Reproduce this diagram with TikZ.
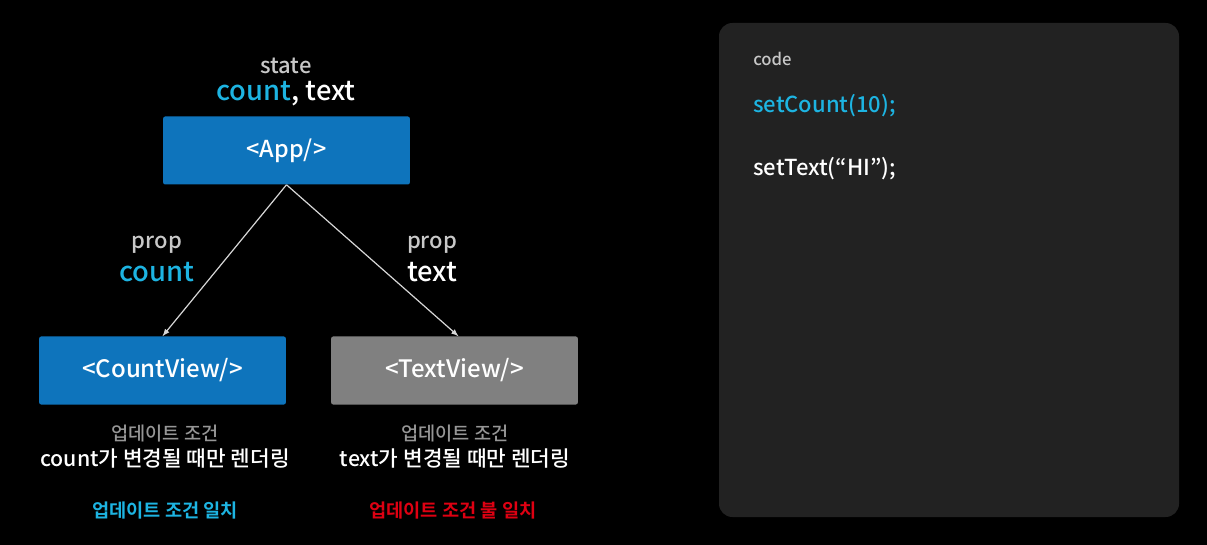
\documentclass[tikz,border=0pt]{standalone}
\usepackage{fontspec}
\setmainfont{Noto Sans CJK KR Medium}[BoldFont={Noto Sans CJK KR Bold}]
\usepackage{tikz}
\usepackage{xcolor}
\usetikzlibrary{positioning}
\definecolor{AppBlue}{RGB}{14,116,188}
\definecolor{ViewGray}{RGB}{128,128,128}
\definecolor{PropCyan}{RGB}{29,180,226}
\definecolor{LabelGray}{RGB}{200,200,200}
\definecolor{NoteGray}{RGB}{150,150,150}
\definecolor{AlertRed}{RGB}{222,0,18}
\definecolor{PanelGray}{RGB}{34,34,34}
\definecolor{EdgeGray}{RGB}{215,215,215}
\newcommand{\fs}[1]{\fontsize{#1}{1.2\dimexpr #1pt\relax}\selectfont}

\begin{document}
\begin{tikzpicture}[x=0.75pt, y=-0.75pt, >=latex,
  comp/.style={minimum width=185pt, minimum height=51pt, inner sep=0pt, rounded corners=1.5pt, text=white, font=\fs{17.5}},
  small/.style={text=LabelGray, inner sep=0pt, font=\fs{16.5}},
  big/.style={inner sep=0pt, font=\fs{20.5}},
  note/.style={text=NoteGray, inner sep=0pt, font=\fs{14}},
  rule/.style={text=white, inner sep=0pt, font=\fs{16}},
  verdict/.style={inner sep=0pt, font=\bfseries\fs{14}},
  codeline/.style={anchor=west, inner sep=0pt, font=\fs{16.5}}]
  \useasboundingbox (0,0) rectangle (1207,545);
  \fill[black] (0,0) rectangle (1207,545);

  % component tree
  \node[comp, fill=AppBlue] (app) at (286.5,150.5) {<App/>};
  \node[small] (statelbl) at (286,66) {state};
  \node[big, text=white] (state) at (286,94) {{\color{PropCyan}count}, text};
  \node[comp, fill=AppBlue, font=\fs{18}] (countview) at (162.5,370.5) {<CountView/>};
  \node[comp, fill=ViewGray, font=\fs{18}] (textview) at (454.5,370.5) {<TextView/>};

  \node[small] (propa) at (157,245) {prop};
  \node[big, text=PropCyan] (propcount) at (157,272) {count};
  \node[small] (propb) at (432,245) {prop};
  \node[big, text=white] (proptext) at (432,272) {text};

  \draw[->, EdgeGray, line width=0.9pt] (app.south) -- (countview.north);
  \draw[->, EdgeGray, line width=0.9pt] (app.south) -- ([xshift=3pt]textview.north);

  % update conditions
  \node[note] (conda) at (165,434) {업데이트 조건};
  \node[rule] (rulea) at (165,459) {count가 변경될 때만 렌더링};
  \node[note] (condb) at (455,434) {업데이트 조건};
  \node[rule] (ruleb) at (455,459) {text가 변경될 때만 렌더링};
  \node[verdict, text=PropCyan] (matcha) at (165,511) {업데이트 조건 일치};
  \node[verdict, text=AlertRed] (matchb) at (453,511) {업데이트 조건 불 일치};

  % code panel
  \fill[PanelGray, rounded corners=10pt] (719,23) rectangle (1179,517);
  \node[codeline, text=LabelGray, font=\fs{12.5}] (codelbl) at (753,59) {code};
  \node[codeline, text=PropCyan] (setcount) at (753,106) {setCount(10);};
  \node[codeline, text=white] (settext) at (753,169) {setText(“HI”);};
\end{tikzpicture}
\end{document}
